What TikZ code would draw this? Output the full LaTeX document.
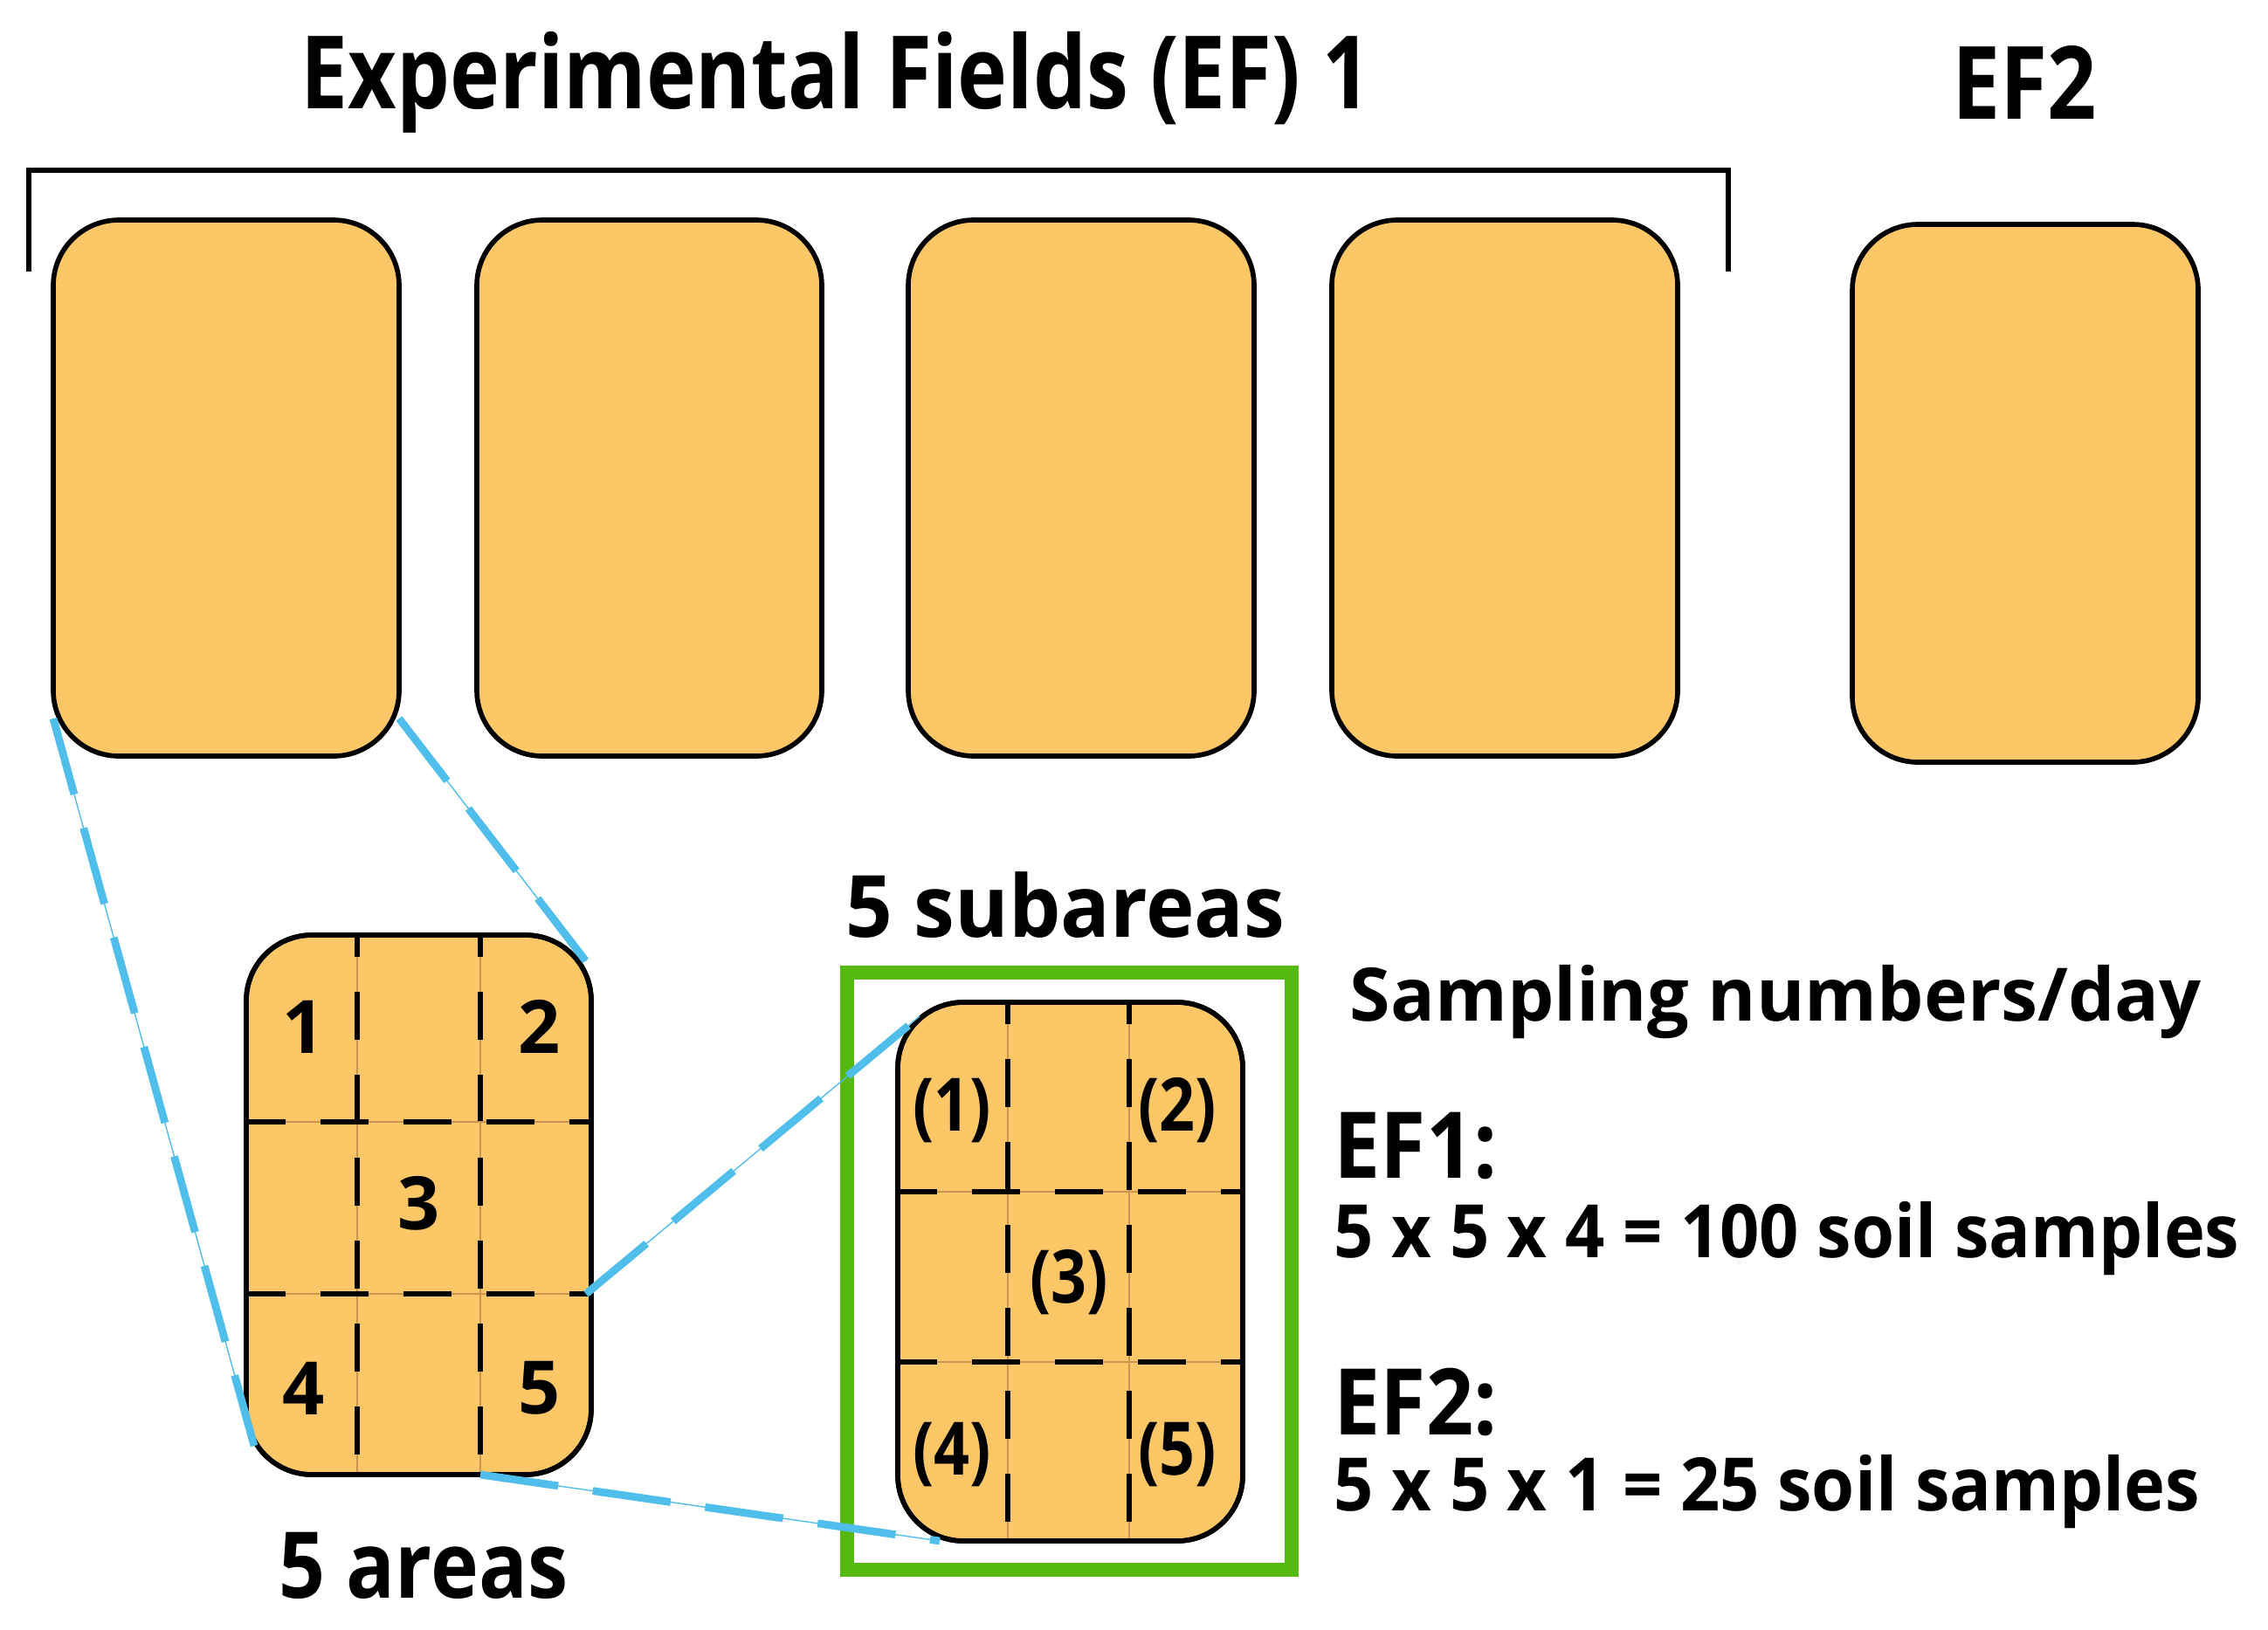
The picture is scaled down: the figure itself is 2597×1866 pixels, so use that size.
\documentclass[tikz,border=0pt]{standalone}
\usepackage{fontspec}
\setmainfont{Open Sans}
\definecolor{fieldc}{RGB}{253,199,104}
\definecolor{linkc}{RGB}{80,190,235}
\definecolor{greenc}{RGB}{85,185,15}
\definecolor{tanc}{RGB}{200,150,80}
\begin{document}
\begin{tikzpicture}[x=0.01cm,y=-0.01cm,
  field/.style={draw=black,line width=1.6pt,fill=fieldc,rounded corners=0.75cm},
  tx/.style={inner sep=0pt,font=\bfseries},
  link/.style={linkc,line width=2.5pt,dash pattern=on 0.9cm off 0.4cm},
  thinlink/.style={linkc,line width=0.4pt},
  grid/.style={black,line width=1.8pt,dash pattern=on 0.55cm off 0.4cm},
  gridthin/.style={tanc,line width=0.3pt}]
\useasboundingbox (0,0) rectangle (2597,1866);
% titles
\node[tx,font=\bfseries\fontsize{33}{36}\selectfont] (t1) at (957,94) {\scalebox{0.83}[1]{Experimental Fields (EF) 1}};
\node[tx,font=\bfseries\fontsize{33}{36}\selectfont] (t2) at (2318,94) {\scalebox{0.85}[1]{EF2}};
\draw[line width=1.6pt] (33,311) -- (33,195) -- (1979,195) -- (1979,311);
% big fields
\draw[field] (61,252) rectangle (457,866);
\draw[field] (546,252) rectangle (941,866);
\draw[field] (1040,252) rectangle (1436,866);
\draw[field] (1525,252) rectangle (1921,866);
\draw[field] (2121,257) rectangle (2517,873);
% green box
\draw[greenc,line width=4.5pt] (970,1114) rectangle (1479,1798);
% small field
\draw[field] (282,1071) rectangle (677,1689);
\foreach \x in {409,550}{\draw[gridthin] (\x,1071)--(\x,1689);\draw[grid,dash phase=0.3cm] (\x,1071)--(\x,1689);}
\foreach \y in {1285,1482}{\draw[gridthin] (282,\y)--(677,\y);\draw[grid,dash phase=0.1cm] (282,\y)--(677,\y);}
\draw[line width=1.6pt,rounded corners=0.75cm] (282,1071) rectangle (677,1689);
\node[tx,font=\bfseries\fontsize{24}{26}\selectfont] (a1) at (348,1176) {1};
\node[tx,font=\bfseries\fontsize{24}{26}\selectfont] (a2) at (618,1176) {2};
\node[tx,font=\bfseries\fontsize{24}{26}\selectfont] (a3) at (480,1378) {3};
\node[tx,font=\bfseries\fontsize{24}{26}\selectfont] (a4) at (348,1590) {4};
\node[tx,font=\bfseries\fontsize{24}{26}\selectfont] (a5) at (618,1590) {5};
\node[tx,font=\bfseries\fontsize{30}{33}\selectfont] (ar) at (485,1793) {\scalebox{0.88}[1]{5 areas}};
% inner field
\draw[field] (1028,1148) rectangle (1423,1765);
\foreach \x in {1154,1293}{\draw[gridthin] (\x,1148)--(\x,1765);\draw[grid,dash phase=0.3cm] (\x,1148)--(\x,1765);}
\foreach \y in {1365,1560}{\draw[gridthin] (1028,\y)--(1423,\y);\draw[grid,dash phase=0.1cm] (1028,\y)--(1423,\y);}
\draw[line width=1.6pt,rounded corners=0.75cm] (1028,1148) rectangle (1423,1765);
\node[tx,font=\bfseries\fontsize{24}{26}\selectfont] (b1) at (1090,1272) {\scalebox{0.85}[1]{(1)}};
\node[tx,font=\bfseries\fontsize{24}{26}\selectfont] (b2) at (1348,1272) {\scalebox{0.85}[1]{(2)}};
\node[tx,font=\bfseries\fontsize{24}{26}\selectfont] (b3) at (1224,1469) {\scalebox{0.85}[1]{(3)}};
\node[tx,font=\bfseries\fontsize{24}{26}\selectfont] (b4) at (1090,1666) {\scalebox{0.85}[1]{(4)}};
\node[tx,font=\bfseries\fontsize{24}{26}\selectfont] (b5) at (1348,1666) {\scalebox{0.85}[1]{(5)}};
\node[tx,font=\bfseries\fontsize{28}{31}\selectfont] (sa) at (1220,1037) {\scalebox{0.955}[1]{5 subareas}};
% links
\coordinate (p1) at (61,823); \coordinate (q1) at (291,1656);
\coordinate (p2) at (457,823); \coordinate (q2) at (671,1101);
\coordinate (p3) at (671,1482); \coordinate (q3) at (1053,1164);
\coordinate (p4) at (550,1689); \coordinate (q4) at (1076,1765);
\foreach \a/\b in {p1/q1,p2/q2,p3/q3,p4/q4}{\draw[thinlink] (\a)--(\b);\draw[link] (\a)--(\b);}
% right texts
\node[tx,anchor=west,font=\bfseries\fontsize{24}{27}\selectfont] (s) at (1545,1148) {Sampling numbers/day};
\node[tx,anchor=west,font=\bfseries\fontsize{30}{33}\selectfont] (e1) at (1527,1313) {\scalebox{0.9}[1]{EF1:}};
\node[tx,anchor=west,font=\bfseries\fontsize{24}{27}\selectfont] (n1) at (1527,1419) {\scalebox{0.94}[1]{5 x 5 x 4 = 100 soil samples}};
\node[tx,anchor=west,font=\bfseries\fontsize{30}{33}\selectfont] (e2) at (1527,1606) {\scalebox{0.9}[1]{EF2:}};
\node[tx,anchor=west,font=\bfseries\fontsize{24}{27}\selectfont] (n2) at (1527,1709) {\scalebox{0.94}[1]{5 x 5 x 1 = 25 soil samples}};
\end{tikzpicture}
\end{document}
